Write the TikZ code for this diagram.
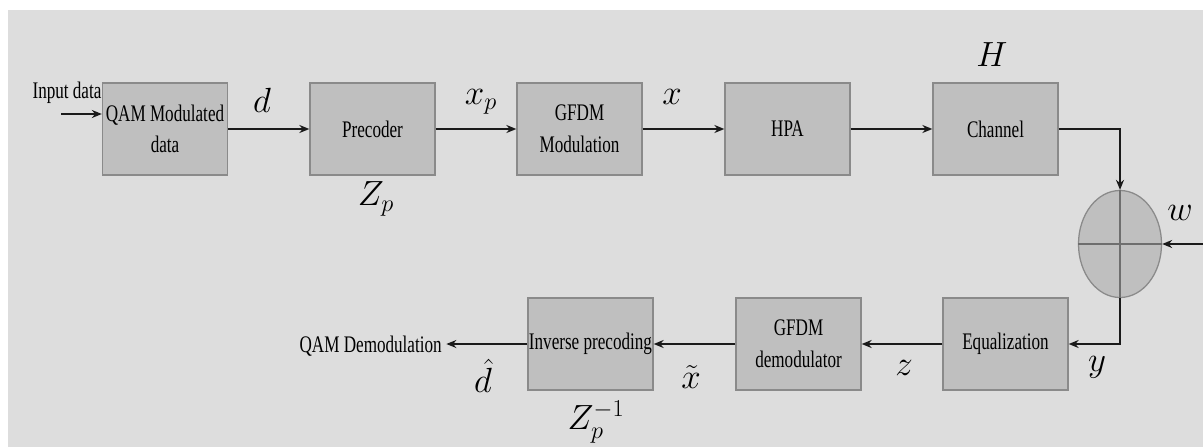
\documentclass[tikz,border=0pt]{standalone}
\usepackage{fontspec}
\setmainfont{Liberation Serif}[FakeStretch=0.72]
\usepackage{amsmath}
\usetikzlibrary{arrows.meta,shapes.geometric}
\definecolor{Canvas}{HTML}{DDDDDD}
\definecolor{BoxFill}{HTML}{BFBFBF}
\definecolor{BoxEdge}{HTML}{8A8A8A}
\definecolor{Cross}{HTML}{6E6E6E}
\definecolor{Wire}{HTML}{1A1A1A}
\tikzset{
  block/.style={draw=BoxEdge,fill=BoxFill,line width=0.9pt,minimum width=3.125cm,
    minimum height=2.3cm,inner sep=0pt,align=center,font=\fontsize{16.9}{22.5}\selectfont},
  summer/.style={ellipse,draw=BoxEdge,fill=BoxFill,line width=0.9pt,
    minimum width=2.075cm,minimum height=2.675cm,inner sep=0pt},
  wire/.style={->,Wire,line width=1.1pt},
  caption/.style={inner sep=0pt,font=\fontsize{16.9}{20}\selectfont},
  sym/.style={inner sep=0pt,font=\fontsize{25.5}{26}\selectfont},
}

\begin{document}
\begin{tikzpicture}[x=0.025cm,y=-0.025cm,>={Stealth[length=0.25cm,width=0.2cm]}]
\useasboundingbox (0,0) rectangle (1203,447);
\fill[white] (0,0) rectangle (1203,447);
\fill[Canvas] (8,10) rectangle (1203,447);
% transmitter chain
\node[block] (qam) at (165,129) {QAM Modulated\\data};
\node[block] (pre) at (372.5,129) {Precoder};
\node[block] (mod) at (579.5,129) {GFDM\\Modulation};
\node[block] (hpa) at (787.5,129) {HPA};
\node[block] (chan) at (995.5,129) {Channel};
% noise adder
\node[summer] (sum) at (1120,244) {};
\draw[Cross,line width=0.9pt] (sum.north) -- (sum.south);
\draw[Cross,line width=0.9pt] (sum.west) -- (sum.east);
% receiver chain
\node[block] (eq) at (1005.5,344) {Equalization};
\node[block] (demod) at (798.5,344) {GFDM\\demodulator};
\node[block] (inv) at (590.5,344) {Inverse precoding};
\node[caption,anchor=east] (out) at (442,346) {QAM Demodulation};
\node[caption] (in) at (67,93) {Input data};
\coordinate (src) at (61,114);
\coordinate (noise) at (1203,244);
% connections
\draw[wire] (src) -- (src -| qam.west);
\draw[wire] (qam) -- (pre);
\draw[wire] (pre) -- (mod);
\draw[wire] (mod) -- (hpa);
\draw[wire] (hpa) -- (chan);
\draw[wire] (chan.east) -| (sum.north);
\draw[wire] (noise) -- (sum.east);
\draw[wire] (sum.south) |- (eq.east);
\draw[wire] (eq) -- (demod);
\draw[wire] (demod) -- (inv);
\draw[wire] (inv.west) -- ++(-81,0);
% signal labels
\node[sym] (lbl-d) at (262,100) {$d$};
\node[sym] (lbl-zp) at (376,199) {$Z_p$};
\node[sym] (lbl-xp) at (481,102) {$x_p$};
\node[sym] (lbl-x) at (672,97) {$x$};
\node[sym] (lbl-h) at (992,55) {$H$};
\node[sym] (lbl-w) at (1180,213) {$w$};
\node[sym] (lbl-y) at (1097,367) {$y$};
\node[sym] (lbl-z) at (904,368) {$z$};
\node[sym] (lbl-xt) at (691,377) {$\tilde{x}$};
\node[sym] (lbl-dh) at (483,376) {$\hat{d}$};
\node[sym] (lbl-zi) at (596,422) {$Z_p^{-1}$};
\end{tikzpicture}
\end{document}
